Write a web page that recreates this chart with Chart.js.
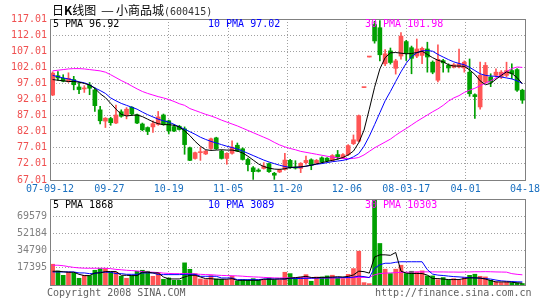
<!DOCTYPE html>
<html><head><meta charset="utf-8">
<script src="https://cdn.jsdelivr.net/npm/chart.js@4.4.1/dist/chart.umd.min.js"></script>
<style>
html,body{margin:0;padding:0;background:#fff;}
#wrap{position:relative;width:545px;height:300px;overflow:hidden;background:#fff;}
canvas{position:absolute;left:0;}
.t{position:absolute;font-family:"DejaVu Sans Mono",monospace;font-size:10px;line-height:12px;white-space:pre;z-index:2;}
</style></head><body>
<div id="wrap">
<canvas id="pc" width="545" height="200" style="top:0px"></canvas>
<canvas id="vc" width="545" height="110" style="top:190px"></canvas>
<div class="t" style="left:52px;top:3px;font-family:'Noto Sans CJK SC';font-size:12px;line-height:14px;color:#000">日<b>K</b>线图<span style="display:inline-block;margin:0 3px 0 6px;transform:scaleX(1.2)">—</span>小商品城<span style="font-family:'DejaVu Sans Mono';font-size:10px;color:#333">(600415)</span></div>
</div>
<script>
// ---- data ----
const dateLabels = ['07-09-12','09-27','10-19','11-05','11-20','12-06','08-03-17','04-01','04-18'];
const priceTicks = [67.01,72.01,77.01,82.01,87.01,92.01,97.01,102.01,107.01,112.01,117.01];
const volumeTicks = [17395,34790,52184,69579];
const volumeMax = 86974;

const open = [
93.4,99.4,98.6,97.6,98.2,95.9,95.3,96.5,95.0,88.8,
85.3,86.1,84.7,88.2,87.0,89.6,87.3,84.4,83.3,83.5,
84.3,87.2,85.4,83.6,83.7,82.9,77.0,73.7,75.5,75.1,
76.8,80.1,76.0,73.7,75.3,77.8,76.7,73.4,70.8,70.1,
70.6,72.1,69.1,69.5,70.3,73.1,71.0,70.6,72.4,73.3,
72.3,73.9,73.8,73.1,74.9,73.9,74.9,78.3,79.1,95.7,
105.2,115.3,114.3,103.1,107.1,101.7,105.5,110.0,108.1,105.5,
105.7,107.7,103.6,98.0,104.1,102.6,102.1,102.1,101.8,100.5,
93.5,89.7,97.4,99.0,99.5,99.0,99.5,101.0,101.3,94.9];
const high = [
100.6,100.7,99.7,100.3,99.2,97.3,96.3,97.3,95.6,89.9,
86.4,86.5,90.3,88.8,89.5,89.8,87.5,84.7,83.5,85.4,
88.3,87.5,85.6,84.2,84.0,83.5,77.2,75.7,77.2,76.2,
80.0,80.3,76.3,75.5,79.2,78.5,77.0,73.8,71.2,70.5,
72.4,72.3,69.4,70.4,75.3,73.4,73.0,72.4,74.4,73.6,
73.4,74.2,74.0,74.9,76.2,75.2,78.0,81.0,87.2,95.7,
105.2,116.3,116.5,107.5,108.0,104.5,112.8,110.4,108.6,110.8,
108.3,109.8,104.0,109.0,104.5,103.1,103.2,107.7,104.0,104.6,
93.8,103.6,103.5,100.0,101.5,101.0,103.6,103.1,101.6,95.2];
const low = [
93.2,97.9,97.5,97.3,95.0,93.8,94.2,93.5,88.3,84.4,
83.3,84.0,84.5,86.5,86.0,87.0,84.5,82.3,81.1,81.8,
84.0,84.0,81.3,82.0,82.5,75.0,73.0,73.5,73.1,74.9,
76.5,76.5,73.5,71.9,75.0,75.8,73.2,69.8,67.2,69.5,
70.4,69.4,67.2,69.3,70.1,70.6,70.4,69.3,71.9,70.2,
72.0,72.3,72.7,72.8,73.4,73.6,74.6,78.0,78.8,95.7,
105.2,109.5,104.0,102.5,103.0,99.9,104.5,104.1,100.0,105.0,
103.1,100.5,100.0,97.5,100.5,100.5,101.8,101.8,100.5,93.0,
86.1,89.0,97.0,96.0,99.0,98.5,99.0,98.5,94.5,90.8];
const close = [
100.2,98.7,97.7,98.6,96.6,95.1,95.5,95.5,90.1,85.4,
86.2,84.8,87.2,86.8,89.0,87.5,84.7,82.6,82.1,84.5,
86.6,84.2,82.3,82.2,82.7,78.0,73.1,75.5,75.8,76.0,
79.8,76.7,73.7,75.3,77.2,76.0,73.4,71.8,69.6,69.7,
71.3,69.6,68.5,70.1,73.2,70.8,70.7,72.2,73.1,71.6,
73.1,72.6,73.0,74.6,74.2,74.9,77.7,79.5,87.0,95.7,
105.2,110.2,105.9,106.2,103.5,104.0,111.7,106.3,104.8,107.7,
107.9,105.2,100.5,104.5,103.4,101.8,102.8,103.1,103.6,93.8,
92.9,99.5,102.6,97.4,100.5,100.5,101.0,100.0,94.9,91.8];
const ma5 = [
98.2,98.0,97.8,97.6,97.6,97.4,97.0,96.5,95.5,93.8,
92.6,90.8,89.0,87.4,86.9,87.1,87.2,86.7,85.9,85.1,
84.5,84.2,84.2,84.0,83.5,82.3,80.8,79.0,77.5,76.4,
76.2,76.3,76.4,76.3,76.3,76.0,75.4,74.4,73.2,72.0,
71.2,70.7,70.4,70.3,70.5,70.9,71.0,71.1,71.3,71.6,
72.0,72.4,72.8,73.1,73.5,74.0,74.8,76.0,78.6,82.5,
89.0,95.8,101.5,105.0,106.5,106.6,106.4,106.2,106.3,106.6,
107.0,106.0,105.0,104.2,103.7,102.8,102.4,102.4,102.3,101.2,
99.8,97.8,96.6,97.0,98.3,99.5,100.6,100.1,98.8,96.92];
const ma10 = [
99.5,99.1,98.7,98.4,98.0,97.5,97.2,96.6,95.6,94.8,
93.9,92.5,91.6,90.8,90.2,89.6,89.0,88.1,87.3,86.6,
85.9,85.4,85.0,84.3,83.5,82.8,82.0,81.2,80.3,79.6,
79.0,78.5,78.0,77.5,77.1,76.6,76.0,75.3,74.6,73.9,
73.2,72.6,72.1,71.6,71.2,70.9,70.9,71.0,71.3,71.6,
71.9,72.1,72.4,72.7,72.9,73.1,73.5,74.2,75.2,77.5,
80.6,84.2,87.9,91.6,94.5,97.6,100.6,103.3,105.3,106.5,
107.1,107.2,107.0,106.0,105.2,104.4,103.7,103.2,102.8,102.0,
101.0,100.0,99.5,99.3,99.2,99.0,98.7,98.4,97.8,97.02];
const ma30 = [
100.9,101.1,101.3,101.5,101.6,101.6,101.5,101.3,101.1,100.9,
100.5,99.7,98.8,97.9,97.1,96.2,95.3,94.5,93.9,93.4,
92.9,92.5,92.0,91.4,90.7,90.2,89.2,88.6,88.0,87.4,
86.9,86.3,85.6,85.0,84.4,83.8,83.1,82.4,81.7,81.0,
80.3,79.6,78.7,77.9,77.3,76.8,76.4,75.9,75.6,75.3,
75.0,74.7,74.4,74.1,73.9,73.7,73.6,73.7,74.0,74.8,
75.9,77.0,77.9,78.8,79.7,80.9,82.0,83.0,84.1,85.2,
86.2,87.2,88.2,89.1,90.2,91.5,92.5,93.2,94.2,94.9,
95.5,96.3,97.1,97.8,98.7,99.7,100.7,101.6,102.1,101.98];
const volume = [
21000,14200,9800,13200,12200,6800,9800,9500,14900,16600,
16600,12900,12900,8800,6800,9500,13900,14900,13900,8800,
12500,5800,7100,4700,4700,22400,15900,11500,6100,5400,
9500,6100,5800,5100,8800,4100,5400,4700,6400,5100,
5100,7100,5100,5100,12900,11500,7100,8100,10500,3800,
8100,8100,9200,9900,7100,6500,10800,16600,34200,2400,
1400,86974,42000,16000,11600,16000,20000,11600,13900,13200,
14300,9200,9200,5400,7500,5400,6400,4800,7500,9800,
10900,8800,8200,4800,3100,2500,3000,2200,1800,1500];
const vma5 = [
13900,13900,13400,12900,12900,10800,9500,9500,12200,12200,
13600,13600,13600,9800,9800,9500,9500,12900,12900,12200,
12200,8100,6100,6100,6100,8100,9800,9800,8100,6400,
6400,5800,5800,5800,6400,4700,4700,4700,4700,4700,
5800,5800,5800,6100,6100,7000,7500,8000,8800,7600,
7400,7700,7800,8000,8400,8100,8700,10200,14000,13500,
12000,28300,30500,30500,30000,32900,14000,12000,11600,11600,
11600,10000,6500,6500,6000,5500,5500,5500,6500,7200,
7200,7000,6000,4500,3100,3100,3100,2800,2200,1868];
const vma10 = [
13200,13200,13200,13200,13200,12200,12200,11500,11500,12900,
12900,12900,11500,11500,10800,10800,10800,12200,12200,12200,
10500,10500,10500,10500,10500,10800,10800,10800,8800,8800,
8800,8800,7100,7100,7100,5400,5400,5400,5400,5400,
6100,6100,6100,6100,6100,6500,6500,6600,6800,6800,
7000,7100,7200,7300,7400,7500,7600,7900,9000,8500,
7500,17000,20500,22000,22000,23000,23500,23500,23500,23500,
23500,15500,11000,10000,9600,9000,8500,8200,7800,7500,
7200,6900,6500,6000,5000,4200,3800,3500,3200,3089];
const vma30 = [
20000,20000,19500,18600,17800,17300,17000,16950,16950,16950,
16950,16500,15800,15400,14900,14600,14200,13600,13100,12900,
12600,12000,11700,11500,11500,11600,11500,11100,10800,10500,
10400,10000,9700,9500,9400,9200,8900,8500,8200,8000,
7700,7400,7200,7100,7150,7200,7150,7150,7150,7100,
7100,7100,7150,7200,7200,7200,7300,7400,7700,7700,
7600,10300,11600,12000,12200,12500,12800,12900,13100,13200,
13300,13300,13300,13200,13200,13100,13100,13000,13100,13200,
13400,13400,13500,13400,13200,13100,13000,11500,10800,10303];
const priceLegend = [['5 PMA', '96.92', '#000000'], ['10 PMA', '97.02', '#0000ff'], ['30 PMA', '101.98', '#ff00ff']];
const volumeLegend = [['5 PMA', '1868', '#000000'], ['10 PMA', '3089', '#0000ff'], ['30 PMA', '10303', '#ff00ff']];

// ---- styling / construction ----
const UP = '#ff5555', DOWN = '#00a000';
const days = open.map((_, i) => 'd' + (i + 1));
const candleColor = open.map((o, i) => close[i] >= o ? UP : DOWN);
const mono = {family: 'DejaVu Sans Mono', size: 10};

const wrap = document.getElementById('wrap');
function addText(txt, left, top, color) {
  const d = document.createElement('div');
  d.className = 't'; d.textContent = txt;
  d.style.left = left + 'px'; d.style.top = top + 'px'; d.style.color = color;
  wrap.appendChild(d);
}
const legendX = [53, 208, 365];
priceLegend.forEach((l, i) => addText(l[0] + ' ' + l[1], legendX[i], 18, l[2]));
volumeLegend.forEach((l, i) => addText(l[0] + ' ' + l[1], legendX[i], 199, l[2]));
addText('Copyright 2008 SINA.COM', 47, 287, '#606060');
addText('http://finance.sina.com.cn', 375, 287, '#606060');

const framePlugin = {
  id: 'frame',
  afterDraw(c) {
    const {ctx, chartArea: a} = c;
    ctx.save();
    ctx.strokeStyle = '#808080';
    ctx.lineWidth = 1;
    ctx.strokeRect(Math.round(a.left) + 0.5, Math.round(a.top) + 0.5,
      Math.round(a.right - a.left), Math.round(a.bottom - a.top));
    ctx.restore();
  }
};

const gridDots = {color: '#a0a0a0', lineWidth: 1, drawTicks: false};

function lineDs(data, color, yId) {
  return {type: 'line', data, borderColor: color, borderWidth: 1, pointRadius: 0,
    tension: 0, fill: false, xAxisID: 'x', yAxisID: yId, order: 0};
}

new Chart(document.getElementById('pc'), {
  type: 'bar',
  data: {
    labels: days,
    datasets: [
      lineDs(ma5, '#000000', 'y'),
      lineDs(ma10, '#0000ff', 'y'),
      lineDs(ma30, '#ff00ff', 'y'),
      {type: 'bar', data: open.map((o, i) => [o, close[i]]), backgroundColor: candleColor,
        barThickness: 4, minBarLength: 1, grouped: false, borderWidth: 0, xAxisID: 'x', yAxisID: 'y', order: 1},
      {type: 'bar', data: low.map((l, i) => [l, high[i]]), backgroundColor: candleColor,
        barThickness: 1, grouped: false, borderWidth: 0, xAxisID: 'x', yAxisID: 'y', order: 2}
    ]
  },
  options: {
    responsive: false, animation: false, events: [],
    layout: {padding: {left: 0, right: 20, top: 19, bottom: 0}},
    plugins: {legend: {display: false}, tooltip: {enabled: false}},
    scales: {
      x: {type: 'category', display: false, offset: true, grid: {display: false, offset: true}},
      xg: {type: 'linear', position: 'bottom', min: 0, max: dateLabels.length - 1, offset: false,
        grid: Object.assign({offset: false}, gridDots), border: {display: false, dash: [1, 2]},
        afterBuildTicks: s => { s.ticks = dateLabels.map((_, i) => ({value: i})); },
        afterFit: s => { s.height = 20; },
        ticks: {autoSkip: false, maxRotation: 0, minRotation: 0, padding: 3, color: '#1a70c0', font: mono,
          callback: (v, i) => dateLabels[i]}},
      y: {type: 'linear', position: 'left', min: priceTicks[0], max: priceTicks[priceTicks.length - 1],
        grid: gridDots, border: {display: false, dash: [1, 2]},
        afterBuildTicks: s => { s.ticks = priceTicks.map(v => ({value: v})); },
        afterFit: s => { s.width = 50; },
        ticks: {padding: 3, color: '#f05050', font: mono, callback: v => v.toFixed(2)}}
    }
  },
  plugins: [framePlugin]
});

new Chart(document.getElementById('vc'), {
  type: 'bar',
  data: {
    labels: days,
    datasets: [
      lineDs(vma5, '#000000', 'y'),
      lineDs(vma10, '#0000ff', 'y'),
      lineDs(vma30, '#ff00ff', 'y'),
      {type: 'bar', data: volume, backgroundColor: candleColor, barThickness: 4, grouped: false,
        borderWidth: 0, xAxisID: 'x', yAxisID: 'y', order: 1}
    ]
  },
  options: {
    responsive: false, animation: false, events: [],
    layout: {padding: {left: 0, right: 20, top: 9, bottom: 0}},
    plugins: {legend: {display: false}, tooltip: {enabled: false}},
    scales: {
      x: {type: 'category', display: false, offset: true, grid: {display: false, offset: true}},
      xg: {type: 'linear', position: 'bottom', min: 0, max: dateLabels.length - 1, offset: false,
        grid: Object.assign({offset: false}, gridDots), border: {display: false, dash: [1, 2]},
        afterBuildTicks: s => { s.ticks = dateLabels.map((_, i) => ({value: i})); },
        afterFit: s => { s.height = 15; },
        ticks: {display: false}},
      y: {type: 'linear', position: 'left', min: 0, max: volumeMax,
        grid: gridDots, border: {display: false, dash: [1, 2]},
        afterBuildTicks: s => { s.ticks = volumeTicks.map(v => ({value: v})); },
        afterFit: s => { s.width = 50; },
        ticks: {padding: 3, color: '#808080', font: mono, callback: v => String(v)}}
    }
  },
  plugins: [framePlugin]
});
</script>
</body></html>
